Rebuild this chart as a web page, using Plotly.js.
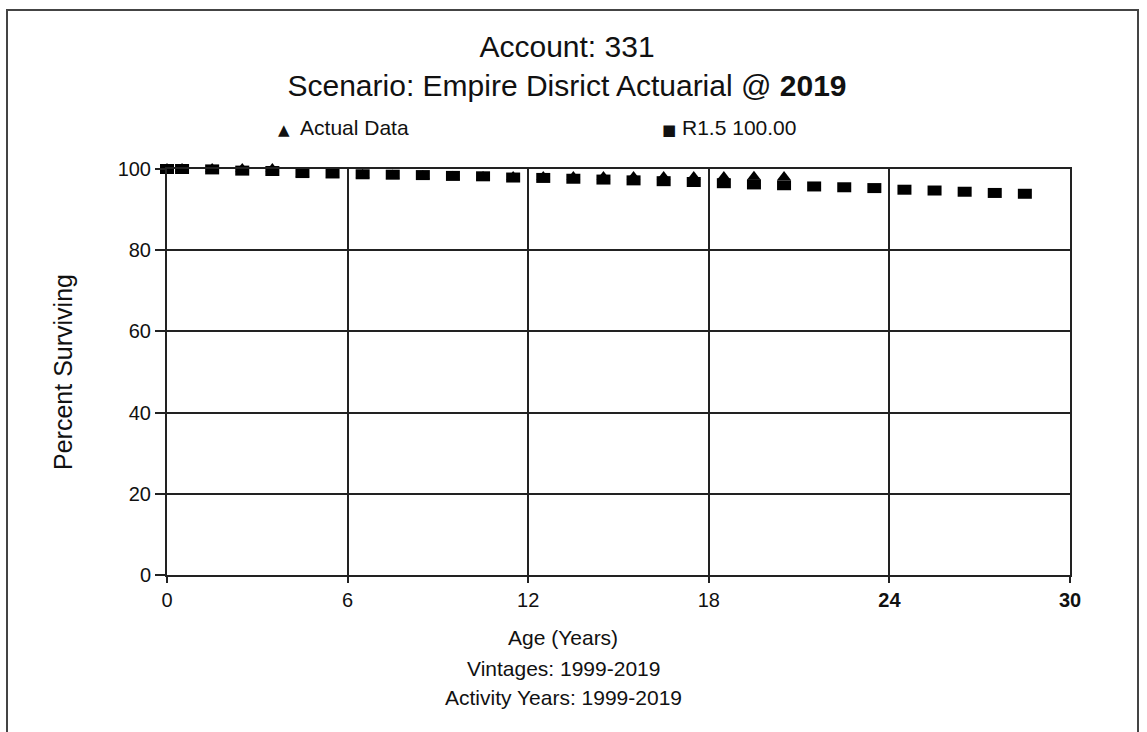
<!DOCTYPE html>
<html>
<head>
<meta charset="utf-8">
<script src="https://cdn.plot.ly/plotly-3.0.1.min.js"></script>
<style>
html,body{margin:0;padding:0;overflow:hidden;background:#fff;}
#chart{position:absolute;left:0;top:0;width:1147px;height:732px;}
#frame{position:absolute;left:6px;top:9px;width:1129px;height:800px;border:2px solid #444;pointer-events:none;}
</style>
</head>
<body>
<div id="chart"></div>
<div id="frame"></div>
<script>
// Ages (years) for the fitted R1.5 curve
const curveAges = [0, 0.5, 1.5, 2.5, 3.5, 4.5, 5.5, 6.5, 7.5, 8.5, 9.5, 10.5, 11.5, 12.5, 13.5,
  14.5, 15.5, 16.5, 17.5, 18.5, 19.5, 20.5, 21.5, 22.5, 23.5, 24.5, 25.5, 26.5, 27.5, 28.5];
// R1.5 100.00 percent surviving
const curveValues = [100, 100, 99.9, 99.6, 99.5, 99.0, 98.9, 98.7, 98.6, 98.5, 98.3, 98.2, 97.9, 97.8, 97.6,
  97.4, 97.2, 97.0, 96.8, 96.5, 96.2, 96.0, 95.7, 95.5, 95.3, 94.9, 94.7, 94.4, 94.1, 93.9];
// Actual data ages and percent surviving
const actualAges = [0, 0.5, 1.5, 2.5, 3.5, 4.5, 5.5, 6.5, 7.5, 8.5, 9.5, 10.5, 11.5, 12.5, 13.5,
  14.5, 15.5, 16.5, 17.5, 18.5, 19.5, 20.5];
const actualValues = [100, 100, 100, 100, 100, 98.8, 98.7, 98.5, 98.4, 98.3, 98.1, 98.0, 98.0, 98.0, 98.0,
  98.0, 98.0, 98.0, 98.0, 98.0, 98.1, 98.0];

const xTickVals = [0, 6, 12, 18, 24, 30];
const xTickText = ['0', '6', '12', '18', '<b>24</b>', '<b>30</b>'];
const yTickVals = [0, 20, 40, 60, 80, 100];
const yTickText = ['0', '20', '40', '60', '80', '100'];

const titleLine1 = 'Account: 331';
const titleLine2 = 'Scenario: Empire Disrict Actuarial @ <b>2019</b>';
const legendActual = 'Actual Data';
const legendCurve = 'R1.5 100.00';
const xTitleLines = ['Age (Years)', 'Vintages: 1999-2019', 'Activity Years: 1999-2019'];
const yTitle = 'Percent Surviving';

const FONT = 'Arial, "Liberation Sans", sans-serif';
const INK = '#111';
const LINE = '#222';

const traces = [
  {
    x: curveAges, y: curveValues, type: 'scatter', mode: 'markers', name: legendCurve,
    cliponaxis: false, showlegend: false, hoverinfo: 'x+y',
    marker: {symbol: 'line-ew', size: 10, color: '#000', line: {color: '#000', width: 10}}
  },
  {
    x: actualAges, y: actualValues, type: 'scatter', mode: 'markers', name: legendActual,
    cliponaxis: false, showlegend: false, hoverinfo: 'x+y',
    marker: {symbol: 'triangle-up', size: 12, color: '#000', line: {width: 0}}
  }
];

const W = 1147, H = 732;
const L = 167, R = W - 1070, T = 169, B = H - 575;
const pw = W - L - R, ph = H - T - B;
const px = v => (v - L) / pw;
const py = v => (H - B - v) / ph;

const GLYPH = 'font-family:\'DejaVu Sans\';font-size:15px';
const annotations = [
  {xref: 'paper', yref: 'paper', x: px(276), y: py(127), xanchor: 'left', yanchor: 'middle', showarrow: false,
   text: '<span style="' + GLYPH + '">▲</span>&nbsp; ' + legendActual, font: {family: FONT, size: 21, color: INK}},
  {xref: 'paper', yref: 'paper', x: px(660), y: py(127), xanchor: 'left', yanchor: 'middle', showarrow: false,
   text: '<span style="' + GLYPH + '">■</span>&nbsp;' + legendCurve, font: {family: FONT, size: 21, color: INK}},
  {xref: 'paper', yref: 'paper', x: px(563), y: py(637), xanchor: 'center', yanchor: 'middle', showarrow: false,
   text: xTitleLines[0], font: {family: FONT, size: 21, color: INK}},
  {xref: 'paper', yref: 'paper', x: px(563), y: py(668), xanchor: 'center', yanchor: 'middle', showarrow: false,
   text: xTitleLines[1], font: {family: FONT, size: 21, color: INK}},
  {xref: 'paper', yref: 'paper', x: px(563), y: py(697), xanchor: 'center', yanchor: 'middle', showarrow: false,
   text: xTitleLines[2], font: {family: FONT, size: 21, color: INK}}
];

const layout = {
  width: W, height: H,
  margin: {l: L, r: R, t: T, b: B, pad: 0},
  paper_bgcolor: '#fff', plot_bgcolor: '#fff',
  font: {family: FONT, size: 20, color: INK},
  title: {
    text: titleLine1 + '<br>' + titleLine2,
    x: 567 / W, xanchor: 'center', xref: 'container',
    y: 1 - 57 / H, yanchor: 'top', yref: 'container',
    font: {family: FONT, size: 30, color: INK}
  },
  showlegend: false,
  xaxis: {
    range: [0, 30], tickmode: 'array', tickvals: xTickVals, ticktext: xTickText,
    showgrid: true, gridcolor: LINE, gridwidth: 2, zeroline: false,
    showline: true, linecolor: LINE, linewidth: 2, mirror: true,
    ticks: 'outside', ticklen: 6, tickcolor: LINE, tickwidth: 2,
    tickfont: {family: FONT, size: 20, color: INK}, fixedrange: true
  },
  yaxis: {
    range: [0, 100], tickmode: 'array', tickvals: yTickVals, ticktext: yTickText,
    showgrid: true, gridcolor: LINE, gridwidth: 2, zeroline: false,
    showline: true, linecolor: LINE, linewidth: 2, mirror: true,
    ticks: 'outside', ticklen: 10, tickcolor: LINE, tickwidth: 2,
    tickfont: {family: FONT, size: 20, color: INK}, fixedrange: true,
    title: {text: yTitle, font: {family: FONT, size: 25, color: INK}, standoff: 38}
  },
  annotations: annotations
};

Plotly.newPlot('chart', traces, layout, {displayModeBar: false, staticPlot: true});
</script>
</body>
</html>
